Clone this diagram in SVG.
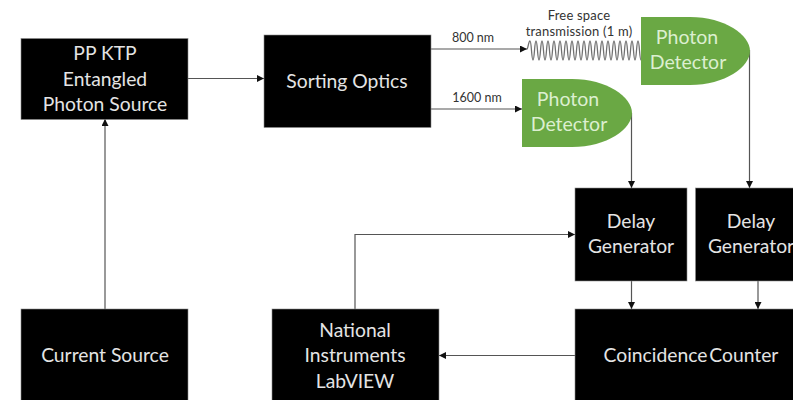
<svg xmlns="http://www.w3.org/2000/svg" width="793" height="400" viewBox="0 0 793 400">
<style>
.box{fill:#000;stroke:#8a8a8a;stroke-width:.6}
.t{font-family:Lato,"Liberation Sans",sans-serif;font-size:19.300px;fill:#e4e4e4;text-anchor:middle}
.g{fill:#6aa844}
.gt{font-family:Lato,"Liberation Sans",sans-serif;font-size:19.500px;fill:#dcefd0;text-anchor:middle}
.l{font-family:Lato,"Liberation Sans",sans-serif;font-size:12.500px;fill:#333;text-anchor:middle}
.w{letter-spacing:.2px;font-size:13px}
.c{fill:none;stroke:#555;stroke-width:1.2}
</style>
<defs><marker id="a" markerUnits="userSpaceOnUse" markerWidth="7" markerHeight="7" refX="7" refY="3.5" orient="auto"><path d="M0 0L7 3.5L0 7Z" fill="#111"/></marker></defs>
<g id="connectors">
<path class="c" marker-end="url(#a)" d="M188 78.500H264"/>
<path class="c" marker-end="url(#a)" d="M105 309V119"/>
<path class="c" marker-end="url(#a)" d="M431 49H527"/>
<path class="c" marker-end="url(#a)" d="M431 109H522"/>
<path class="c" marker-end="url(#a)" d="M631.500 113V188"/>
<path class="c" marker-end="url(#a)" d="M749.500 50V188"/>
<path class="c" marker-end="url(#a)" d="M631.500 281V309"/>
<path class="c" marker-end="url(#a)" d="M758 281V309"/>
<path class="c" marker-end="url(#a)" d="M575 355.500H439"/>
<path class="c" marker-end="url(#a)" d="M355 309V234.500H575"/>
<path fill="none" stroke="#707070" stroke-width="1.300" d="M527 49c1 0 1.500 -8 3 -8c1.500 0 1.500 19 3 19c1.500 0 1.500 -19 3 -19c1.500 0 1.500 19 3 19c1.500 0 1.500 -19 3 -19c1.500 0 1.500 19 3 19c1.500 0 1.500 -19 3 -19c1.500 0 1.500 19 3 19c1.500 0 1.500 -19 3 -19c1.500 0 1.500 19 3 19c1.500 0 1.500 -19 3 -19c1.500 0 1.500 19 3 19c1.500 0 1.500 -19 3 -19c1.500 0 1.500 19 3 19c1.500 0 1.500 -19 3 -19c1.500 0 1.500 19 3 19c1.500 0 1.500 -19 3 -19c1.500 0 1.500 19 3 19c1.500 0 1.500 -19 3 -19c1.500 0 1.500 19 3 19c1.500 0 1.500 -19 3 -19c1.500 0 1.500 19 3 19c1.500 0 1.500 -19 3 -19c1.500 0 1.500 19 3 19c1.500 0 1.500 -19 3 -19c1.500 0 1.500 19 3 19c1.500 0 1.500 -19 3 -19c1.500 0 1.500 19 3 19c1.500 0 1.500 -19 3 -19c1.500 0 1.500 19 3 19c1.500 0 1.500 -19 3 -19c1.500 0 1.500 19 3 19c1.500 0 1.500 -19 3 -19c1.500 0 1.500 19 3 19c1.500 0 1.500 -19 3 -19c1.500 0 1.500 19 3 19c1.500 0 1.500 -19 3 -19c1.500 0 1.500 19 3 19"/>
</g>
<g id="source"><rect class="box" x="21" y="38.500" width="167" height="81"/><text class="t" x="105" y="60">PP KTP</text><text class="t" x="105" y="86">Entangled</text><text class="t" x="105" y="111">Photon Source</text></g>
<g id="sorting"><rect class="box" x="264" y="35" width="167" height="92.500"/><text class="t" x="347" y="88">Sorting Optics</text></g>
<g id="detector1"><path class="g" d="M641 17H690C725 17 750 35 750 51C750 67 725 85 690 85H641Z"/><text class="gt" x="687" y="44">Photon</text><text class="gt" x="688" y="69">Detector</text></g>
<g id="detector2"><path class="g" d="M522 79H572C607 79 632 97 632 113C632 129 607 147 572 147H522Z"/><text class="gt" x="568" y="106">Photon</text><text class="gt" x="569" y="131">Detector</text></g>
<g id="delay1"><rect class="box" x="575" y="188" width="112" height="93"/><text class="t" x="631" y="228">Delay</text><text class="t" x="631" y="253">Generator</text></g>
<g id="delay2"><rect class="box" x="695.500" y="188" width="98" height="93"/><text class="t" x="751" y="228">Delay</text><text class="t" x="751" y="253">Generator</text></g>
<g id="coincidence"><rect class="box" x="575" y="309" width="219" height="92"/><text class="t" x="691" y="362" word-spacing="-3">Coincidence Counter</text></g>
<g id="current"><rect class="box" x="21" y="309" width="167" height="92"/><text class="t" x="105" y="362">Current Source</text></g>
<g id="labview"><rect class="box" x="272" y="309" width="167" height="92"/><text class="t" x="355" y="337">National</text><text class="t" x="355" y="362">Instruments</text><text class="t" x="355" y="388">LabVIEW</text></g>
<g id="labels"><text class="l" x="473" y="42">800 nm</text><text class="l" x="477" y="102">1600 nm</text><text class="l w" x="579" y="20">Free space</text><text class="l w" x="579" y="36">transmission (1 m)</text></g>
</svg>
